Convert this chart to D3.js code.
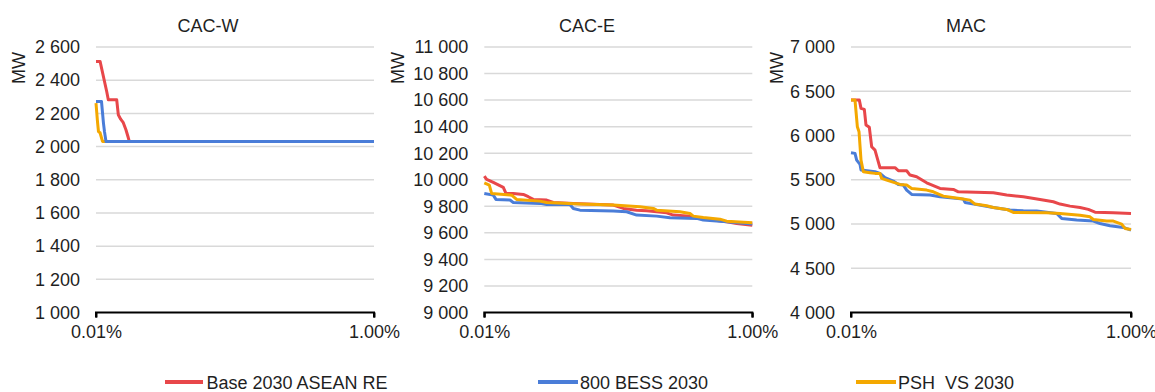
<!DOCTYPE html>
<html>
<head>
<meta charset="utf-8">
<script src="https://cdn.jsdelivr.net/npm/d3@7"></script>
<style>
  body { margin: 0; background: #fff; }
  text { font-family: "Liberation Sans", Arial, sans-serif; fill: #1f1f1f; }
</style>
</head>
<body>
<svg id="chart" width="1155" height="392"></svg>
<script>
// Regions and scenarios
const regions = ["CAC-W", "CAC-E", "MAC"];
const seriesNames = ["Base 2030 ASEAN RE", "800 BESS 2030", "PSH_VS 2030"];

// Axis ticks
const xTicks = [0.01, 1];
const yTicksCacW = [1000, 1200, 1400, 1600, 1800, 2000, 2200, 2400, 2600];
const yTicksCacE = [9000, 9200, 9400, 9600, 9800, 10000, 10200, 10400, 10600, 10800, 11000];
const yTicksMac = [4000, 4500, 5000, 5500, 6000, 6500, 7000];

// Duration curves: [share of hours (%), load (MW)]
const cacwBase = [[0.01, 2513], [0.0107, 2513], [0.01194, 2332], [0.01226, 2282], [0.01409, 2282],
  [0.01447, 2192], [0.01505, 2165], [0.01572, 2144], [0.01644, 2100], [0.01708, 2053],
  [0.01736, 2031], [1, 2031]];
const cacwBess = [[0.01, 2272], [0.01095, 2272], [0.01132, 2140], [0.01151, 2090], [0.0118, 2031], [1, 2031]];
const cacwPsh = [[0.01, 2262], [0.01025, 2150], [0.01042, 2090], [0.01069, 2083], [0.01114, 2031], [1, 2031]];

const caceBase = [[0.01, 10028], [0.01041, 10003], [0.01167, 9980], [0.01386, 9942], [0.01451, 9897],
  [0.01646, 9897], [0.01954, 9889], [0.0213, 9872], [0.02321, 9852], [0.02919, 9847],
  [0.03273, 9829], [0.04615, 9822], [0.09177, 9809], [0.109, 9784], [0.137, 9771],
  [0.1627, 9766], [0.2295, 9751], [0.2573, 9734], [0.3425, 9726], [0.4069, 9709],
  [0.6436, 9683], [0.764, 9671], [1, 9658]];
const caceBess = [[0.01, 9897], [0.01167, 9884], [0.01222, 9852], [0.01554, 9847], [0.01646, 9829],
  [0.02603, 9822], [0.02919, 9814], [0.04357, 9814], [0.04615, 9784], [0.05175, 9771],
  [0.09177, 9764], [0.1154, 9759], [0.137, 9734], [0.1932, 9726], [0.243, 9714],
  [0.3842, 9709], [0.4308, 9696], [0.6436, 9683], [1, 9666]];
const cacePsh = [[0.01, 9977], [0.0109, 9960], [0.01134, 9897], [0.016, 9884], [0.01743, 9852],
  [0.02603, 9839], [0.02919, 9829], [0.05175, 9817], [0.09177, 9809], [0.1451, 9796],
  [0.1825, 9784], [0.1932, 9771], [0.2885, 9759], [0.3425, 9746], [0.3628, 9726],
  [0.4308, 9716], [0.5737, 9703], [0.6436, 9688], [1, 9676]];

const macBase = [[0.01, 6400], [0.01147, 6400], [0.01179, 6307], [0.01245, 6295], [0.0128, 6118],
  [0.01352, 6092], [0.01405, 5873], [0.01484, 5835], [0.01542, 5741], [0.01611, 5636],
  [0.02062, 5636], [0.02178, 5602], [0.02498, 5602], [0.02639, 5553], [0.02944, 5534],
  [0.03471, 5466], [0.04322, 5402], [0.05383, 5391], [0.05845, 5364], [0.1039, 5353],
  [0.1294, 5327], [0.1702, 5308], [0.2239, 5278], [0.2788, 5251], [0.3111, 5225],
  [0.3667, 5202], [0.4322, 5187], [0.4958, 5165], [0.5533, 5134], [0.7478, 5127], [1, 5119]];
const macBess = [[0.01, 5805], [0.01068, 5798], [0.01098, 5722], [0.0116, 5673], [0.01179, 5609],
  [0.01484, 5590], [0.01611, 5572], [0.01749, 5523], [0.02006, 5485], [0.02178, 5447],
  [0.02365, 5440], [0.02498, 5383], [0.02713, 5334], [0.03667, 5327], [0.04322, 5308],
  [0.06345, 5281], [0.06521, 5244], [0.079, 5221], [0.1039, 5187], [0.1367, 5157],
  [0.1702, 5149], [0.212, 5146], [0.2944, 5119], [0.3197, 5063], [0.4091, 5044],
  [0.5383, 5033], [0.6006, 5006], [0.7079, 4980], [0.8816, 4961], [1, 4931]];
const macPsh = [[0.01, 6400], [0.01068, 6400], [0.0111, 6099], [0.01141, 6043], [0.01179, 5722],
  [0.01225, 5590], [0.01367, 5579], [0.01484, 5572], [0.01611, 5572], [0.01656, 5515],
  [0.01798, 5496], [0.02239, 5447], [0.02498, 5440], [0.02713, 5402], [0.03471, 5383],
  [0.03874, 5364], [0.04566, 5315], [0.06006, 5289], [0.07079, 5270], [0.07686, 5225],
  [0.09312, 5206], [0.1039, 5187], [0.1294, 5165], [0.1444, 5131], [0.2498, 5127],
  [0.3111, 5119], [0.4322, 5100], [0.5096, 5081], [0.5383, 5051], [0.6703, 5033],
  [0.7478, 5033], [0.8577, 4999], [0.906, 4950], [1, 4938]];

const colors = ["#E8474A", "#4A7DD8", "#F4A800"];

// Panel geometry and contents
const panels = [
  { name: regions[0], yTicks: yTicksCacW, series: [cacwBase, cacwBess, cacwPsh], order: [0, 2, 1],
    left: 96, right: 374, titleX: 208, unitX: 25 },
  { name: regions[1], yTicks: yTicksCacE, series: [caceBase, caceBess, cacePsh], order: [0, 1, 2],
    left: 484.3, right: 752.3, titleX: 587, unitX: 404 },
  { name: regions[2], yTicks: yTicksMac, series: [macBase, macBess, macPsh], order: [0, 1, 2],
    left: 851, right: 1131, titleX: 966, unitX: 782.5 }
];
const plotTop = 47, plotBottom = 312.5;

const svg = d3.select("#chart");
const fmt = d3.formatLocale({ decimal: ",", thousands: "\u00a0", grouping: [3], currency: ["", ""] }).format(",d");

panels.forEach(p => {
  const x = d3.scaleLog().domain([xTicks[0], xTicks[xTicks.length - 1]]).range([p.left, p.right]);
  const y = d3.scaleLinear().domain(d3.extent(p.yTicks)).range([plotBottom, plotTop]);
  const g = svg.append("g");

  // horizontal gridlines
  g.append("g").selectAll("line")
    .data(p.yTicks.slice(1))
    .join("line")
    .attr("x1", p.left).attr("x2", p.right)
    .attr("y1", d => y(d)).attr("y2", d => y(d))
    .attr("stroke", "#D9D9D9").attr("stroke-width", 1.5);

  // y tick labels
  g.append("g").selectAll("text")
    .data(p.yTicks)
    .join("text")
    .attr("x", p.left - 16)
    .attr("y", d => y(d))
    .attr("dy", "0.35em")
    .attr("text-anchor", "end")
    .attr("font-size", 18)
    .text(d => fmt(d));

  // x axis
  const xAxis = d3.axisBottom(x)
    .tickValues(xTicks)
    .tickSize(5)
    .tickPadding(8)
    .tickFormat(d => d.toFixed(2) + "%");
  const ax = g.append("g").attr("transform", `translate(0,${plotBottom})`).call(xAxis);
  ax.select(".domain").attr("stroke", "#000").attr("stroke-width", 2).attr("d",
    `M${p.left},5V0H${p.right}V5`);
  ax.selectAll(".tick line").attr("stroke", "#000").attr("stroke-width", 2);
  ax.selectAll(".tick text").attr("font-size", 18).attr("fill", "#1f1f1f")
    .attr("font-family", "'Liberation Sans', Arial, sans-serif");

  // series
  const line = d3.line().x(d => x(d[0])).y(d => y(d[1]));
  p.order.forEach(i => {
    g.append("path")
      .datum(p.series[i])
      .attr("d", line)
      .attr("fill", "none")
      .attr("stroke", colors[i])
      .attr("stroke-width", 3)
      .attr("stroke-linejoin", "round");
  });

  // title
  g.append("text")
    .attr("x", p.titleX).attr("y", 31.5)
    .attr("text-anchor", "middle")
    .attr("font-size", 18)
    .text(p.name);

  // unit label
  g.append("text")
    .attr("transform", `translate(${p.unitX},68) rotate(-90)`)
    .attr("text-anchor", "middle")
    .attr("font-size", 18)
    .text("MW");
});

// legend
const legendItems = [
  { x1: 165, x2: 203, tx: 206.5 },
  { x1: 538, x2: 578, tx: 580 },
  { x1: 856, x2: 896, tx: 898 }
];
const lg = svg.append("g");
legendItems.forEach((it, i) => {
  lg.append("line")
    .attr("x1", it.x1).attr("x2", it.x2)
    .attr("y1", 382).attr("y2", 382)
    .attr("stroke", colors[i]).attr("stroke-width", 4);
  lg.append("text")
    .attr("x", it.tx).attr("y", 388.5)
    .attr("font-size", 18)
    .text(seriesNames[i]);
});
</script>
</body>
</html>
